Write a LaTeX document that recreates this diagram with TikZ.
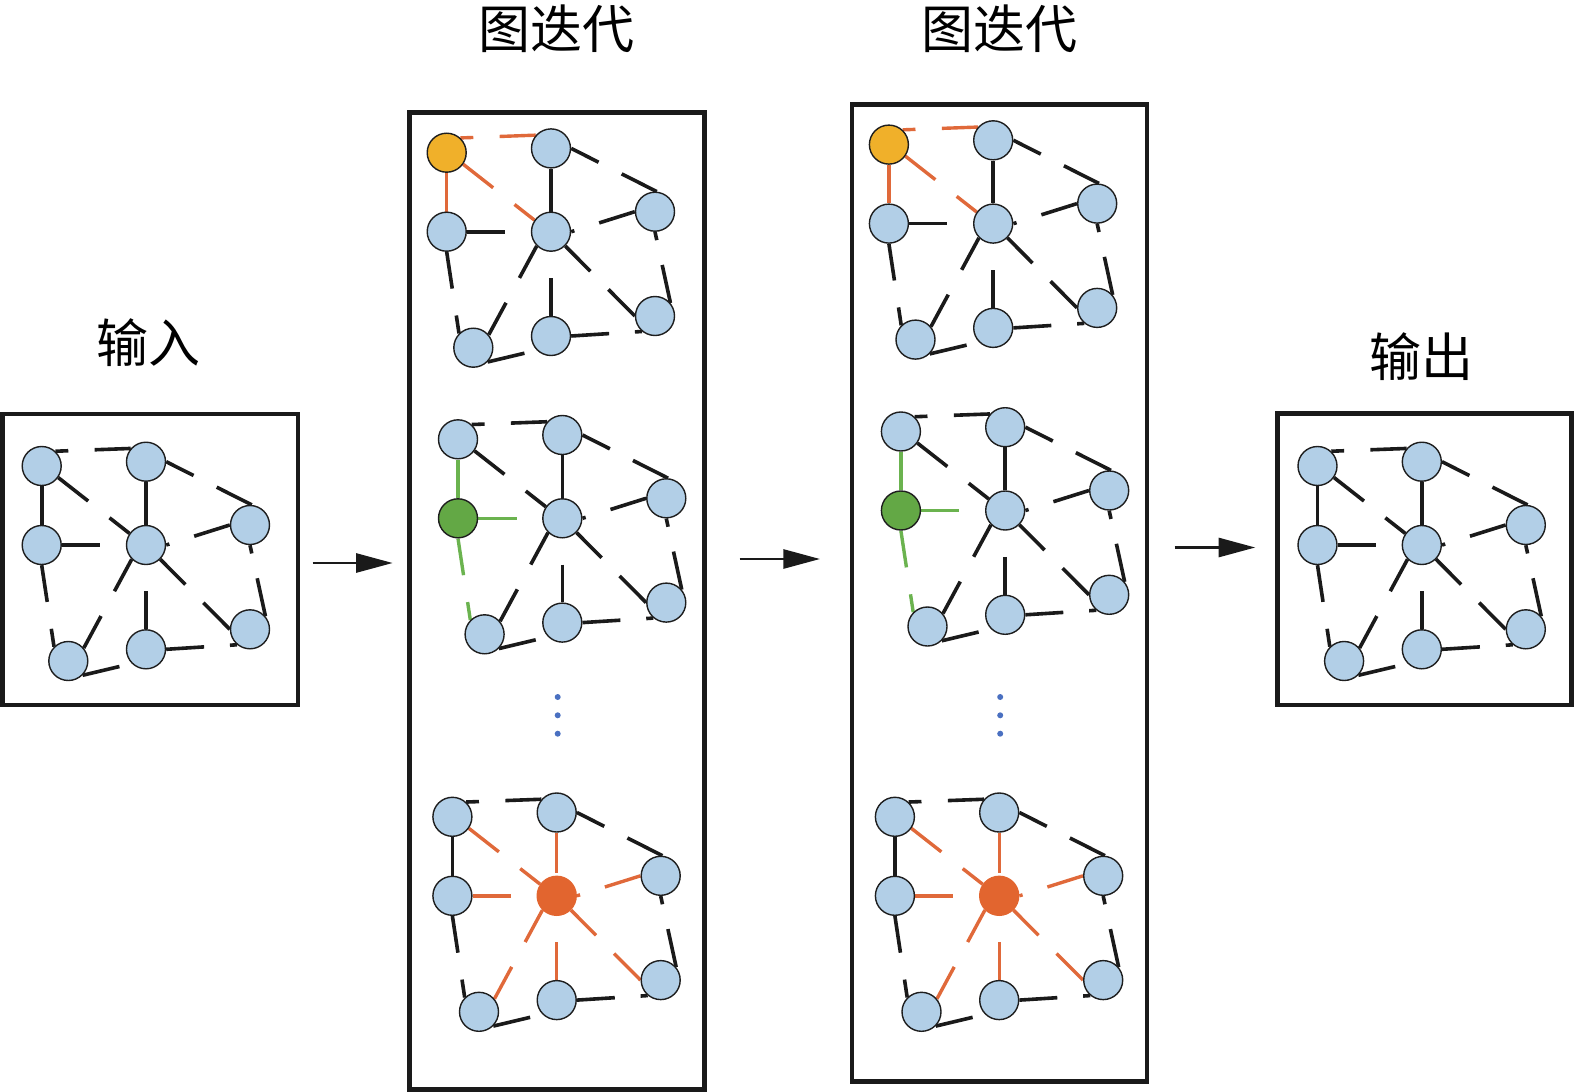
\documentclass[tikz,border=0pt]{standalone}
\usepackage{fontspec}
\newfontfamily\cjk{Noto Sans CJK SC}
\usetikzlibrary{calc,arrows.meta,backgrounds}
\definecolor{nodeblue}{HTML}{B2CFE7}
\definecolor{nodeline}{HTML}{1E1E1E}
\definecolor{edgeblk}{HTML}{1A1A1A}
\definecolor{yel}{HTML}{F0B02A}
\definecolor{grn}{HTML}{63A845}
\definecolor{redor}{HTML}{E2652F}
\definecolor{edgeorg}{HTML}{E0693A}
\definecolor{edgegrn}{HTML}{6BB34F}
\definecolor{dotblue}{HTML}{4A70C1}
\def\bdend{1}
\newcommand\ged[5]{%
  \ifdim#4pt>0pt \draw[#1] (#2) -- ($(#2)!#4!(#3)$);\fi
  \ifdim#5pt<1pt \draw[#1] ($(#2)!#5!(#3)$) -- (#3);\fi}
\tikzset{
  ebk/.style={line width=1.8pt, draw=edgeblk},
  eor/.style={line width=1.7pt, draw=edgeorg},
  egr/.style={line width=1.7pt, draw=edgegrn},
  gnode/.style={circle, draw=nodeline, line width=0.7pt, fill=nodeblue, minimum size=19.5pt, inner sep=0pt},
  yelnode/.style={gnode, fill=yel},
  grnnode/.style={gnode, fill=grn},
  rednode/.style={gnode, fill=redor, draw=redor},
  bdgap/.code={\def\bdend{0.93}},
  gvPlain/.style={sA/.style={gnode}, sC/.style={gnode}, sD/.style={gnode},
    eAB/.style={ebk}, eAC/.style={ebk}, eAD/.style={ebk}, eBD/.style={ebk},
    eCD/.style={ebk}, eCF/.style={ebk}, eDE/.style={ebk}, eFD/.style={ebk},
    eDG/.style={ebk}, eDH/.style={ebk}},
  gvYel/.style={gvPlain, sA/.style={yelnode}, eAB/.style={eor}, eAC/.style={eor}, eAD/.style={eor}},
  gvGrn/.style={gvPlain, sC/.style={grnnode}, eAC/.style={egr}, eCD/.style={egr}, eCF/.style={egr}},
  gvRed/.style={gvPlain, sD/.style={rednode}, eAD/.style={eor}, eBD/.style={eor}, eCD/.style={eor},
    eDE/.style={eor}, eFD/.style={eor}, eDG/.style={eor}, eDH/.style={eor}, bdgap},
  box/.style={draw=edgeblk, line width=2.2pt, inner sep=0pt},
  lab/.style={font=\cjk\fontsize{26pt}{30pt}\selectfont, inner sep=0pt},
  arr/.style={line width=1.35pt, draw=edgeblk, -{Triangle[length=18.3pt,width=9.5pt]}},
}
\newcommand\gdraw[4]{%
\begin{scope}[shift={(#2,#3)},#4]
  \node[sA] (#1A) at (41.7,466) {};
  \node[gnode] (#1B) at (146,461.7) {};
  \node[sC] (#1C) at (41.7,545) {};
  \node[sD] (#1D) at (146,545) {};
  \node[gnode] (#1E) at (250,525) {};
  \node[gnode] (#1F) at (68.3,661) {};
  \node[gnode] (#1G) at (146,649.3) {};
  \node[gnode] (#1H) at (250,629.3) {};
  \begin{pgfonlayer}{background}
  \ged{eAB}{#1A.47}{#1B.139}{0.17}{0.52}
  \ged{eAC}{#1A.south}{#1C.north}{1}{1}
  \ged{eAD}{#1A.-35}{#1D.145}{0.42}{0.72}
  \ged{eBD}{#1B.south}{#1D.north}{\bdend}{1}
  \ged{ebk}{#1B.east}{#1E.85}{0.32}{0.59}
  \ged{eCD}{#1C.east}{#1D.west}{0.6}{1}
  \ged{eCF}{#1C.south}{#1F.135}{0.45}{0.78}
  \ged{eDE}{#1D.east}{#1E.west}{0.05}{0.44}
  \ged{eFD}{#1F.40}{#1D.225}{0.36}{0.64}
  \ged{ebk}{#1F.-45}{#1G.225}{0.75}{1}
  \ged{eDG}{#1D.south}{#1G.north}{0}{0.41}
  \ged{eDH}{#1D.-45}{#1H.180}{0.36}{0.62}
  \ged{ebk}{#1G.east}{#1H.230}{0.535}{0.9}
  \ged{ebk}{#1E.south}{#1H.40}{0.116}{0.465}
  \end{pgfonlayer}
\end{scope}}
\begin{document}
\begin{tikzpicture}[x=0.5pt,y=-0.5pt]
\useasboundingbox (0,0) rectangle (1575,1092);
% frames
\node[box, minimum width=147.6pt, minimum height=145.5pt] (inbox) at (150.2,559.5) {};
\node[box, minimum width=147.5pt, minimum height=488.5pt] (box1) at (557,601) {};
\node[box, minimum width=147.5pt, minimum height=488.5pt] (box2) at (999.5,593) {};
\node[box, minimum width=147pt, minimum height=145.75pt] (outbox) at (1424.5,559.25) {};
% labels
\node[lab] (t1) at (556.5,28.7) {图迭代};
\node[lab] (t2) at (999.5,28.7) {图迭代};
\node[lab] (tin) at (148,342.5) {输入};
\node[lab] (tout) at (1421.7,356.7) {输出};
% graphs
\gdraw{i}{0}{0}{gvPlain}
\gdraw{p}{405}{-313.3}{gvYel}
\gdraw{q}{416.3}{-26.7}{gvGrn}
\gdraw{r}{410.7}{350.8}{gvRed}
\gdraw{s}{847.2}{-321.4}{gvYel}
\gdraw{u}{859.2}{-34.5}{gvGrn}
\gdraw{v}{853.2}{350.8}{gvRed}
\gdraw{o}{1275.8}{0}{gvPlain}
% dots
\foreach \yy in {697,715.3,733.7}{
  \fill[dotblue] (557.7,\yy) circle (1.5pt);
  \fill[dotblue] (1000.2,\yy) circle (1.5pt);
}
% arrows
\coordinate (ya) at (0,563);
\coordinate (yb) at (0,559);
\coordinate (yc) at (0,547.5);
\draw[arr, shorten <=6.25pt, shorten >=7.3pt] (inbox.east |- ya) -- (box1.west |- ya);
\draw[arr, shorten <=16.4pt, shorten >=14.9pt] (box1.east |- yb) -- (box2.west |- yb);
\draw[arr, shorten <=12.65pt, shorten >=10pt] (box2.east |- yc) -- (outbox.west |- yc);
\end{tikzpicture}
\end{document}
